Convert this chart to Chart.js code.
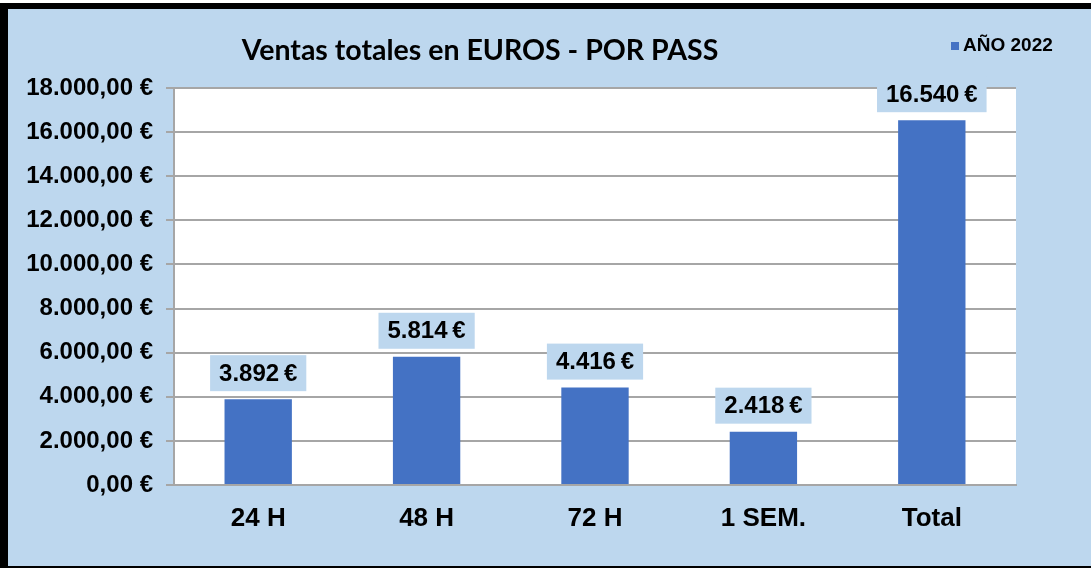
<!DOCTYPE html>
<html>
<head>
<meta charset="utf-8">
<script src="https://cdn.jsdelivr.net/npm/chart.js@4/dist/chart.umd.min.js"></script>
<style>
  html, body { margin: 0; padding: 0; background: #fff; }
  #frame {
    position: absolute; left: 0; top: 3px;
    width: 1091px; height: 565px;
    box-sizing: border-box;
    border-left: 8px solid #000;
    border-top: 6px solid #000;
    border-bottom: 2px solid #000;
    background: #BDD7EE;
  }
  #frame canvas { display: block; }
</style>
</head>
<body>
<div id="frame"><canvas id="ventasChart" width="1083" height="557"></canvas></div>
<script>
const categorias = ['24 H', '48 H', '72 H', '1 SEM.', 'Total'];
const ventas = [3892, 5814, 4416, 2418, 16540];
const serieNombre = 'AÑO 2022';
const titulo = 'Ventas totales en EUROS - POR PASS';

const AZUL_BARRA = '#4472C4';
const AZUL_FONDO = '#BDD7EE';

function miles(n) {
    return String(Math.round(n)).replace(/\B(?=(\d{3})+(?!\d))/g, '.');
}

// título y leyenda dibujados a mano, arriba a la izquierda y a la derecha
const cabecera = {
    id: 'cabecera',
    afterDraw(chart) {
        const ctx = chart.ctx;
        ctx.save();
        ctx.fillStyle = '#000';
        ctx.font = 'bold 28.5px Lato, "Open Sans", sans-serif';
        ctx.textAlign = 'center';
        ctx.textBaseline = 'alphabetic';
        ctx.fillText(titulo, 472, 51);

        ctx.fillStyle = AZUL_BARRA;
        ctx.fillRect(943, 33, 8, 8);
        ctx.fillStyle = '#000';
        ctx.font = 'bold 19px "Liberation Sans", Arial, sans-serif';
        ctx.textAlign = 'left';
        ctx.textBaseline = 'middle';
        ctx.fillText(chart.data.datasets[0].label, 955, 37);
        ctx.restore();
    }
};

// etiquetas de valor con recuadro azul claro encima de cada barra
const etiquetas = {
    id: 'etiquetas',
    afterDatasetsDraw(chart) {
        const ctx = chart.ctx;
        const meta = chart.getDatasetMeta(0);
        ctx.save();
        ctx.font = 'bold 24px "Liberation Sans", Arial, sans-serif';
        ctx.textAlign = 'center';
        ctx.textBaseline = 'middle';
        meta.data.forEach((bar, i) => {
            const txt = miles(chart.data.datasets[0].data[i]) + '\u202F€';
            const w = ctx.measureText(txt).width + 18;
            const h = 36;
            const bottom = bar.y - 8;
            ctx.fillStyle = AZUL_FONDO;
            ctx.fillRect(bar.x - w / 2, bottom - h, w, h);
            ctx.fillStyle = '#000';
            ctx.fillText(txt, bar.x, bottom - h / 2 + 1);
        });
        ctx.restore();
    }
};

const fondoArea = {
    id: 'fondoArea',
    beforeDraw(chart) {
        const a = chart.chartArea;
        chart.ctx.save();
        chart.ctx.fillStyle = '#fff';
        chart.ctx.fillRect(a.left, a.top, a.right - a.left, a.bottom - a.top);
        chart.ctx.restore();
    }
};

new Chart(document.getElementById('ventasChart'), {
    type: 'bar',
    data: {
        labels: categorias,
        datasets: [{
            label: serieNombre,
            data: ventas,
            backgroundColor: AZUL_BARRA,
            borderWidth: 0,
            categoryPercentage: 1,
            barPercentage: 0.4
        }]
    },
    options: {
        responsive: false,
        animation: false,
        layout: { padding: { left: 0, top: 79, right: 75, bottom: 0 } },
        plugins: {
            legend: { display: false },
            title: { display: false },
            tooltip: { enabled: false }
        },
        scales: {
            x: {
                grid: { display: false, drawTicks: false },
                border: { display: true, color: '#A6A6A6', width: 2 },
                ticks: {
                    color: '#000',
                    padding: 18,
                    font: { family: '"Liberation Sans", Arial, sans-serif', size: 26, weight: 'bold' }
                },
                afterFit(scale) { scale.height = 81; }
            },
            y: {
                min: 0,
                max: 18000,
                grid: { color: '#A6A6A6', lineWidth: 2, tickLength: 8 },
                border: { display: true, color: '#A6A6A6', width: 2 },
                ticks: {
                    stepSize: 2000,
                    color: '#000',
                    padding: 13,
                    font: { family: '"Liberation Sans", Arial, sans-serif', size: 24, weight: 'bold' },
                    callback: v => miles(v) + ',00 €'
                },
                afterFit(scale) { scale.width = 166; }
            }
        }
    },
    plugins: [fondoArea, etiquetas, cabecera]
});
</script>
</body>
</html>
